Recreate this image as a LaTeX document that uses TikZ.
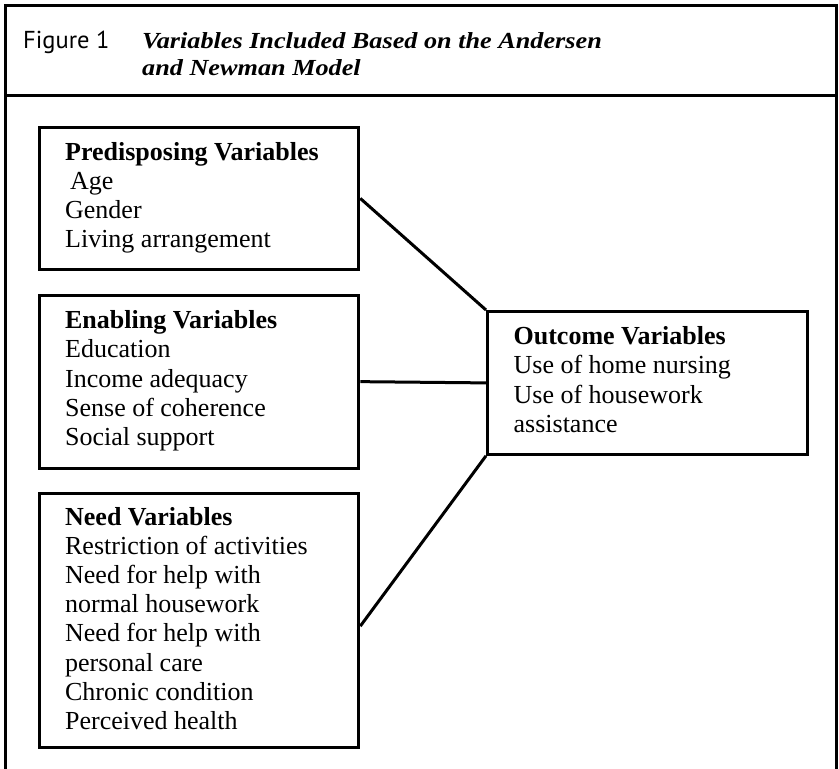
\documentclass[tikz,border=0pt]{standalone}
\usepackage{fontspec}
\usepackage{graphicx}
\setmainfont{Liberation Serif}
\newfontfamily\figfont{PT Sans}
\usetikzlibrary{calc}
\newcommand{\boxtext}[4]{\parbox[c][#1][t]{#2}{\fontsize{26}{29.2}\selectfont\leftskip=26pt\relax\rule{0pt}{#3}\ignorespaces#4\par}}
\begin{document}
\begin{tikzpicture}[x=1pt,y=-1pt,
  frame/.style={line width=3pt, line cap=rect},
  varbox/.style={draw, line width=3.3pt, inner sep=0pt, anchor=north west},
  conn/.style={line width=3pt},
  lbl/.style={inner sep=0pt, anchor=base west}]
\useasboundingbox (0,0) rectangle (839,769);
% outer frame
\coordinate (fbl) at (5,772);
\coordinate (ftl) at (5,5);
\coordinate (ftr) at (836,5);
\coordinate (fbr) at (836,772);
\coordinate (sl) at (5,95);
\coordinate (sr) at (836,95);
\draw[frame] (fbl) -- (ftl) -- (ftr) -- (fbr);
\draw[frame] (sl) -- (sr);
% heading
\node[lbl] (fig) at (23,48) {\figfont\fontsize{24.5}{27}\selectfont Figure 1};
\node[lbl] (title) at (142,48) {\parbox[t]{600pt}{\fontsize{23}{27}\selectfont\bfseries\itshape
  \scalebox{1.14}[1]{Variables Included Based on the Andersen}\\
  \scalebox{1.14}[1]{and Newman Model}}};
% boxes
\node[varbox] (pre) at (37.5,125.5) {\boxtext{142.5pt}{319.5pt}{33pt}{\textbf{Predisposing Variables}\\
  \hspace*{5pt}Age\\ Gender\\ Living arrangement}};
\node[varbox] (ena) at (37.5,293.5) {\boxtext{173pt}{319.5pt}{33.5pt}{\textbf{Enabling Variables}\\
  Education\\ Income adequacy\\ Sense of coherence\\ Social support}};
\node[varbox] (need) at (37.5,491.5) {\boxtext{254pt}{319.5pt}{32pt}{\textbf{Need Variables}\\
  Restriction of activities\\ Need for help with\\ normal housework\\ Need for help with\\
  personal care\\ Chronic condition\\ Perceived health}};
\node[varbox] (out) at (486,310) {\boxtext{142.5pt}{319.5pt}{33pt}{\textbf{Outcome Variables}\\
  Use of home nursing\\ Use of housework\\ assistance}};
% connectors
\draw[conn] (pre.east) -- (out.north west);
\draw[conn] (ena.east) -- (out.west);
\draw[conn] ($(need.east)+(0,6)$) -- (out.south west);
\end{tikzpicture}
\end{document}
